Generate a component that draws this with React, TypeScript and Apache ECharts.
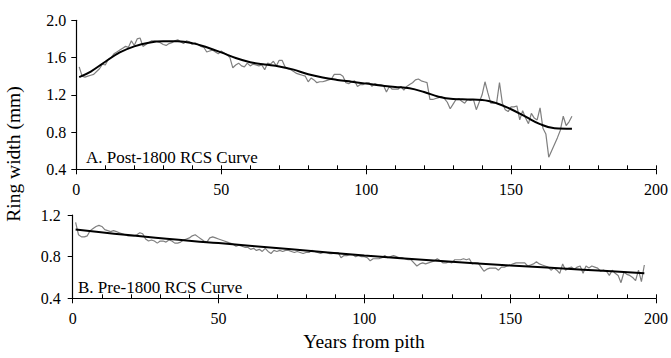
import React, { useEffect, useRef } from "react";
import * as echarts from "echarts";

// Panel A: Post-1800 raw mean ring widths (years 1..171)
const postRaw: number[] = [
  1.50, 1.40, 1.39, 1.40, 1.41, 1.42, 1.45, 1.48, 1.53, 1.52,
  1.58, 1.60, 1.64, 1.66, 1.68, 1.70, 1.72, 1.71, 1.78, 1.73,
  1.80, 1.81, 1.72, 1.74, 1.76, 1.78, 1.78, 1.77, 1.76, 1.74,
  1.73, 1.75, 1.76, 1.78, 1.79, 1.77, 1.75, 1.78, 1.77, 1.74,
  1.76, 1.74, 1.72, 1.71, 1.66, 1.67, 1.68, 1.66, 1.64, 1.67,
  1.65, 1.63, 1.60, 1.49, 1.52, 1.54, 1.51, 1.50, 1.54, 1.51,
  1.53, 1.52, 1.51, 1.52, 1.47, 1.54, 1.53, 1.56, 1.51, 1.57,
  1.57, 1.50, 1.48, 1.47, 1.45, 1.43, 1.42, 1.41, 1.40, 1.34,
  1.38, 1.36, 1.33, 1.34, 1.34, 1.35, 1.36, 1.37, 1.42, 1.42,
  1.42, 1.40, 1.33, 1.32, 1.34, 1.35, 1.29, 1.31, 1.31, 1.33,
  1.33, 1.29, 1.32, 1.31, 1.31, 1.30, 1.23, 1.29, 1.26, 1.26,
  1.26, 1.29, 1.25, 1.29, 1.31, 1.33, 1.36, 1.37, 1.35, 1.34,
  1.33, 1.15, 1.15, 1.16, 1.17, 1.18, 1.16, 1.12, 1.05, 1.10,
  1.15, 1.16, 1.13, 1.11, 1.15, 1.14, 1.15, 1.04, 1.12, 1.20,
  1.34, 1.22, 1.11, 1.11, 1.11, 1.33, 1.11, 1.04, 1.02, 1.07,
  1.07, 1.08, 0.93, 1.03, 0.95, 0.89, 1.00, 0.95, 0.93, 1.06,
  0.84, 0.78, 0.53, 0.60, 0.67, 0.74, 0.82, 0.97, 0.87, 0.91,
  0.97,
];

// Panel A: RCS curve (read at key years)
const postCurveYears: number[] = [1, 5, 10, 15, 20, 25, 30, 35, 40, 45, 50, 55, 60, 65, 70, 75, 80, 85, 90, 95, 100, 105, 110, 115, 120, 125, 130, 135, 140, 145, 150, 155, 160, 165, 171];
const postCurveValues: number[] = [1.39, 1.45, 1.555, 1.655, 1.72, 1.76, 1.775, 1.775, 1.755, 1.71, 1.655, 1.595, 1.55, 1.525, 1.505, 1.47, 1.42, 1.385, 1.36, 1.34, 1.32, 1.30, 1.285, 1.27, 1.23, 1.18, 1.155, 1.15, 1.145, 1.11, 1.045, 0.965, 0.885, 0.84, 0.835];

// Panel B: Pre-1800 raw mean ring widths (years 1..196)
const preRaw: number[] = [
  1.13, 1.01, 0.99, 0.99, 1.00, 1.05, 1.07, 1.09, 1.10, 1.09,
  1.06, 1.05, 1.04, 1.05, 1.04, 1.03, 1.02, 1.01, 1.00, 1.00,
  1.00, 1.01, 1.03, 1.02, 0.97, 0.95, 0.96, 0.95, 0.93, 0.95,
  0.95, 0.94, 0.96, 0.95, 0.93, 0.93, 0.94, 0.96, 0.97, 0.98,
  1.00, 1.01, 0.99, 0.97, 0.95, 0.94, 0.98, 0.99, 0.98, 0.97,
  0.96, 0.95, 0.94, 0.93, 0.92, 0.90, 0.91, 0.90, 0.89, 0.89,
  0.87, 0.88, 0.86, 0.87, 0.85, 0.88, 0.85, 0.83, 0.86, 0.85,
  0.86, 0.85, 0.86, 0.86, 0.85, 0.84, 0.85, 0.84, 0.83, 0.84,
  0.84, 0.86, 0.85, 0.84, 0.83, 0.84, 0.84, 0.83, 0.83, 0.84,
  0.84, 0.79, 0.81, 0.81, 0.82, 0.82, 0.80, 0.81, 0.80, 0.80,
  0.79, 0.76, 0.78, 0.78, 0.78, 0.79, 0.81, 0.79, 0.80, 0.81,
  0.80, 0.79, 0.79, 0.78, 0.77, 0.77, 0.74, 0.71, 0.73, 0.74,
  0.73, 0.74, 0.75, 0.76, 0.78, 0.76, 0.74, 0.74, 0.75, 0.74,
  0.77, 0.77, 0.77, 0.78, 0.77, 0.78, 0.73, 0.74, 0.74, 0.70,
  0.66, 0.68, 0.69, 0.69, 0.69, 0.67, 0.70, 0.70, 0.71, 0.72,
  0.73, 0.74, 0.74, 0.74, 0.74, 0.71, 0.72, 0.73, 0.75, 0.73,
  0.72, 0.71, 0.70, 0.67, 0.69, 0.67, 0.64, 0.73, 0.67, 0.69,
  0.70, 0.68, 0.70, 0.71, 0.64, 0.71, 0.69, 0.71, 0.70, 0.69,
  0.66, 0.67, 0.66, 0.62, 0.67, 0.64, 0.62, 0.55, 0.65, 0.63,
  0.62, 0.60, 0.57, 0.67, 0.56, 0.72,
];

// Panel B: RCS curve (read at key years)
const preCurveYears: number[] = [1, 25, 50, 75, 100, 125, 150, 175, 196];
const preCurveValues: number[] = [1.06, 0.99, 0.93, 0.87, 0.81, 0.76, 0.715, 0.675, 0.64];

const xTicksMajor = 50;
const xTicksMinor = 10;
const topYTicks = { min: 0.4, max: 2.0, interval: 0.4 };
const bottomYTicks = { min: 0.4, max: 1.2, interval: 0.4 };

const panelLabels = ["A. Post-1800 RCS Curve", "B. Pre-1800 RCS Curve"];
const yTitle = "Ring width (mm)";
const xTitle = "Years from pith";

const FONT = "Liberation Serif";

export default function App() {
  const ref = useRef<HTMLDivElement>(null);

  useEffect(() => {
    if (!ref.current) return;
    const chart = echarts.init(ref.current, undefined, { renderer: "svg" });

    const toPairs = (vals: number[]) => vals.map((v, i) => [i + 1, v]);
    const zip = (xs: number[], ys: number[]) => xs.map((x, i) => [x, ys[i]]);

    const grids = [
      { left: 76.3, right: 11, top: 20.3, bottom: 188.7 },
      { left: 72.7, right: 12.7, top: 215, bottom: 59.7 },
    ];

    const minorX = (gi: number) => ({
      type: "value",
      gridIndex: gi,
      position: "bottom",
      min: 0,
      max: 200,
      interval: xTicksMinor,
      axisLine: { show: true, onZero: false, lineStyle: { color: "#000", width: 1.2 } },
      axisTick: { show: true, inside: true, length: 4, lineStyle: { color: "#000", width: 1 } },
      axisLabel: { show: false },
      splitLine: { show: false },
    });
    const majorX = (gi: number) => ({
      type: "value",
      gridIndex: gi,
      position: "bottom",
      min: 0,
      max: 200,
      interval: xTicksMajor,
      axisLine: { show: false, onZero: false },
      axisTick: { show: true, inside: false, length: 5, lineStyle: { color: "#000", width: 1 } },
      axisLabel: { show: true, margin: 12, color: "#000", fontFamily: FONT, fontSize: 16 },
      splitLine: { show: false },
    });
    const yAx = (gi: number, t: { min: number; max: number; interval: number }, margin: number) => ({
      type: "value",
      gridIndex: gi,
      min: t.min,
      max: t.max,
      interval: t.interval,
      axisLine: { show: true, lineStyle: { color: "#000", width: 1.2 } },
      axisTick: { show: true, inside: false, length: 5, lineStyle: { color: "#000", width: 1 } },
      axisLabel: {
        show: true,
        margin,
        color: "#000",
        fontFamily: FONT,
        fontSize: 16,
        formatter: (v: number) => v.toFixed(1),
      },
      splitLine: { show: false },
    });

    chart.setOption({
      animation: false,
      backgroundColor: "#fff",
      grid: grids,
      xAxis: [minorX(0), majorX(0), minorX(1), majorX(1)],
      yAxis: [yAx(0, topYTicks, 10), yAx(1, bottomYTicks, 12)],
      series: [
        {
          type: "line",
          xAxisIndex: 0,
          yAxisIndex: 0,
          data: toPairs(postRaw),
          symbol: "none",
          lineStyle: { color: "#7f7f7f", width: 1.2 },
          z: 2,
        },
        {
          type: "line",
          xAxisIndex: 0,
          yAxisIndex: 0,
          data: zip(postCurveYears, postCurveValues),
          symbol: "none",
          smooth: 0.4,
          lineStyle: { color: "#000", width: 2 },
          z: 3,
        },
        {
          type: "line",
          xAxisIndex: 2,
          yAxisIndex: 1,
          data: toPairs(preRaw),
          symbol: "none",
          lineStyle: { color: "#7f7f7f", width: 1.2 },
          z: 2,
        },
        {
          type: "line",
          xAxisIndex: 2,
          yAxisIndex: 1,
          data: zip(preCurveYears, preCurveValues),
          symbol: "none",
          smooth: 0.4,
          lineStyle: { color: "#000", width: 2 },
          z: 3,
        },
      ],
      graphic: [
        {
          type: "text",
          left: 86,
          top: 149,
          style: { text: panelLabels[0], fill: "#000", font: `17px "${FONT}"` },
        },
        {
          type: "text",
          left: 78,
          top: 279,
          style: { text: panelLabels[1], fill: "#000", font: `17px "${FONT}"` },
        },
        {
          type: "text",
          x: 13,
          y: 154,
          rotation: Math.PI / 2,
          style: {
            text: yTitle,
            fill: "#000",
            font: `19.5px "${FONT}"`,
            align: "center",
            verticalAlign: "middle",
          },
        },
        {
          type: "text",
          x: 364,
          y: 341,
          style: {
            text: xTitle,
            fill: "#000",
            font: `19.5px "${FONT}"`,
            align: "center",
            verticalAlign: "middle",
          },
        },
      ],
    });

    return () => chart.dispose();
  }, []);

  return (
    <div
      ref={ref}
      style={{ position: "fixed", left: 0, top: 0, width: 671, height: 358, background: "#fff" }}
    />
  );
}
